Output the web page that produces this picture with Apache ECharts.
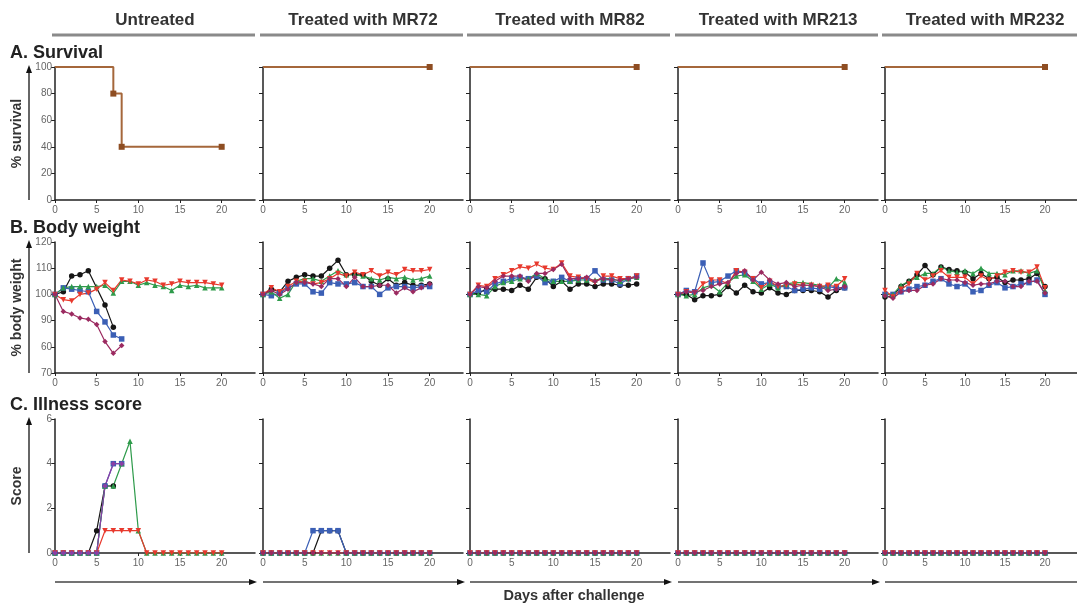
<!DOCTYPE html>
<html>
<head>
<meta charset="utf-8">
<script src="https://cdn.jsdelivr.net/npm/echarts@6/dist/echarts.min.js"></script>
<style>
  html, body { margin: 0; background: #fff; }
  #chart { width: 1077px; height: 605px; }
</style>
</head>
<body>
<div id="chart"></div>
<script>
const groups = ['Untreated', 'Treated with MR72', 'Treated with MR82', 'Treated with MR213', 'Treated with MR232']
const rowTitles = ['A. Survival', 'B. Body weight', 'C. Illness score']
const yNames = ['% survival', '% body weight', 'Score']
const days = [0, 1, 2, 3, 4, 5, 6, 7, 8, 9, 10, 11, 12, 13, 14, 15, 16, 17, 18, 19, 20]
const dayTicks = [0, 5, 10, 15, 20]
// labels as printed in the figure (the 80 tick reads "60")
const weightTickLabels = ['70', '60', '90', '100', '110', '120']

// survival
const survDaysUntreated = [0, 7, 8, 20]
const survUntreated = [100, 80, 40, 40]
const survDaysTreated = [0, 20]
const survTreated = [100, 100]

// body weight, one array per mouse (black, blue, green, red, maroon)
const wtUntreatedBlack = [100, 101, 107, 107.5, 109, null, 96, 87.5]
const wtUntreatedBlue = [100, 102.5, 102, 101.5, 101, 93.5, 89.5, 84.5, 83]
const wtUntreatedGreen = [100, 102.5, 103, 103, 103, 103, 103.5, 100.5, 105, 105, 103.5, 104.5, 103.5, 103, 101.5, 103.5, 103, 103.5, 102.5, 102.5, 102.5]
const wtUntreatedRed = [100, 98, 97.5, 100, 100.5, 102, 104.5, 101.5, 105.5, 105, 104, 105.5, 105, 103.5, 104, 105, 104.5, 104.5, 104.5, 104, 103.5]
const wtUntreatedMaroon = [100, 93.5, 92.5, 91, 90.5, 88.5, 82, 77.5, 80.5]

const wtMR72Black = [100, 102, 101, 105, 106.5, 107.5, 107, 107, 110, 113, 107.5, 107.5, 107.5, 105, 103.5, 106, 103.5, 104.5, 103.5, 103.5, 104]
const wtMR72Blue = [100, 99.5, 100.5, 102.5, 104, 104, 101, 100.5, 104.5, 104, 104, 104.5, 103, 103, 100, 102.5, 103, 103, 102.5, 103, 103]
const wtMR72Green = [100, 101, 98.5, 100, 105, 106, 106, 105, 107, 109, 107.5, 107.5, 107, 106, 105.5, 106.5, 106, 106.5, 105.5, 106, 107]
const wtMR72Red = [100, 102.5, 101, 103, 105, 105, 104, 104.5, 106, 108, 107, 108.5, 107.5, 109, 107, 108.5, 107.5, 109.5, 109, 109, 109.5]
const wtMR72Maroon = [100, 101.5, 100, 102, 104.5, 104.5, 104, 103, 106, 106, 103, 106.5, 103, 103, 103.5, 103.5, 100.5, 102.5, 101, 102.5, 104]

const wtMR82Black = [100, 100.5, 102, 102, 102, 101.5, 103.5, 102, 106.5, 106, 103, 105, 102, 104, 104, 103, 104, 104, 103.5, 103.5, 104]
const wtMR82Blue = [100, 101.5, 101, 104, 105, 106, 106.5, 106, 107, 104.5, 105, 106.5, 105, 106, 106, 109, 105.5, 105.5, 104, 106, 107]
const wtMR82Green = [100, 100, 99.5, 103, 104.5, 105, 106, 106, 108, 106, 105, 105, 105, 105.5, 105.5, 105.5, 106, 106, 105, 106, 106.5]
const wtMR82Red = [100, 103.5, 103, 106, 107.5, 109, 110.5, 110, 111.5, 110, 109.5, 112, 107, 106.5, 106, 104.5, 107, 107, 106, 106, 107]
const wtMR82Maroon = [100, 103, 102.5, 105, 107, 107, 107, 105, 108, 108, 109.5, 111.5, 106, 106, 106.5, 105, 106, 105.5, 105.5, 106, 106.5]

const wtMR213Black = [100, 100, 98, 99.5, 99.5, 100, 103, 100.5, 103.5, 101, 100.5, 102.5, 100.5, 100, 101.5, 101.5, 101.5, 101, 99, 101.5, 102.5]
const wtMR213Blue = [100, 101.5, 101, 112, 104.5, 105, 107, 109, 108, 106, 104, 104.5, 103, 103, 101.5, 102, 102.5, 102, 103, 102.5, 102.5]
const wtMR213Green = [100, 99.5, 100, 102.5, 103.5, 101, 104.5, 107, 107.5, 105, 102, 104, 102.5, 104, 104.5, 104.5, 104, 103.5, 102.5, 106, 104.5]
const wtMR213Red = [100, 101, 100.5, 104, 105.5, 105.5, 104, 109, 108.5, 106, 102.5, 105, 103, 103.5, 104, 103.5, 103.5, 103, 103.5, 103, 106]
const wtMR213Maroon = [100, 101, 101, 101.5, 103, 104, 104.5, 108, 109, 105.5, 108.5, 105.5, 104, 104.5, 103, 103.5, 103.5, 103, 101.5, 102, 103]

const wtMR232Black = [99, 99.5, 103, 105, 107.5, 111, 107.5, 110.5, 109.5, 109, 108.5, 106, 108, 106, 106.5, 104.5, 105.5, 105.5, 106, 108, 103]
const wtMR232Blue = [100, 100, 101, 102, 103, 103.5, 105, 106, 104, 103, 104, 101, 101.5, 103.5, 104.5, 102.5, 103, 104, 104.5, 105.5, 100]
const wtMR232Green = [100, 100, 103.5, 105, 106.5, 108, 108, 110.5, 109, 108.5, 109, 108, 110, 108, 108, 107.5, 109, 109, 108, 109, 101.5]
const wtMR232Red = [101.5, 99, 102, 104, 108, 105.5, 107, 109, 106.5, 106.5, 106.5, 104, 107, 105.5, 107, 108.5, 109, 108.5, 108.5, 110.5, 102.5]
const wtMR232Maroon = [99.5, 98.5, 101, 101.5, 101.5, 103.5, 104, 106, 105.5, 105.5, 104.5, 103.5, 104, 104, 105, 105, 103, 103, 105, 105, 100.5]

// illness score
const scUntreatedBlack = [0, 0, 0, 0, 0, 1, 3, 3]
const scUntreatedBlue = [0, 0, 0, 0, 0, 0, 3, 4, 4]
const scUntreatedGreen = [0, 0, 0, 0, 0, 0, 3, 3, 4, 5, 1, 0, 0, 0, 0, 0, 0, 0, 0, 0, 0]
const scUntreatedRed = [0, 0, 0, 0, 0, 0, 1, 1, 1, 1, 1, 0, 0, 0, 0, 0, 0, 0, 0, 0, 0]
const scUntreatedPurple = [0, 0, 0, 0, 0, 0, 3, 4, 4]
const scMR72Black = [0, 0, 0, 0, 0, 0, 0, 1, 1, 1, 0, 0, 0, 0, 0, 0, 0, 0, 0, 0, 0]
const scMR72Blue = [0, 0, 0, 0, 0, 0, 1, 1, 1, 1, 0, 0, 0, 0, 0, 0, 0, 0, 0, 0, 0]
const scAllZero = [0, 0, 0, 0, 0, 0, 0, 0, 0, 0, 0, 0, 0, 0, 0, 0, 0, 0, 0, 0, 0]

const weightData = [
  [wtUntreatedBlack, wtUntreatedBlue, wtUntreatedGreen, wtUntreatedRed, wtUntreatedMaroon],
  [wtMR72Black, wtMR72Blue, wtMR72Green, wtMR72Red, wtMR72Maroon],
  [wtMR82Black, wtMR82Blue, wtMR82Green, wtMR82Red, wtMR82Maroon],
  [wtMR213Black, wtMR213Blue, wtMR213Green, wtMR213Red, wtMR213Maroon],
  [wtMR232Black, wtMR232Blue, wtMR232Green, wtMR232Red, wtMR232Maroon]
]
const scoreData = [
  [scUntreatedBlack, scUntreatedBlue, scUntreatedGreen, scUntreatedRed, scUntreatedPurple],
  [scMR72Black, scMR72Blue, scAllZero, scAllZero, scAllZero],
  [scAllZero, scAllZero, scAllZero, scAllZero, scAllZero],
  [scAllZero, scAllZero, scAllZero, scAllZero, scAllZero],
  [scAllZero, scAllZero, scAllZero, scAllZero, scAllZero]
]

const FONT = '"Liberation Sans", Arial, sans-serif'
const mice = [
  { color: '#161616', symbol: 'circle', rotate: 0 },
  { color: '#3b5fb5', symbol: 'rect', rotate: 0 },
  { color: '#2e9b4b', symbol: 'triangle', rotate: 0 },
  { color: '#e8392d', symbol: 'triangle', rotate: 180 },
  { color: '#9b2a60', symbol: 'diamond', rotate: 0 }
]
const survColor = '#a5673b'
const colLeft = [55, 263, 470, 678, 885]
const plotW = 200
const rows = [
  { top: 67, height: 133 },
  { top: 242, height: 131 },
  { top: 419, height: 134 }
]

const grids = []
const xAxes = []
const yAxes = []
const series = []

rows.forEach((row, r) => {
  colLeft.forEach((left, c) => {
    const idx = grids.length
    grids.push({ left: left, top: row.top, width: plotW, height: row.height })
    xAxes.push({
      gridIndex: idx, type: 'value', min: 0, max: 24,
      axisLine: { onZero: false, lineStyle: { color: '#222', width: 1.5 } },
      axisTick: { customValues: dayTicks, length: 3, lineStyle: { color: '#222' } },
      axisLabel: { customValues: dayTicks, color: '#666', fontSize: 10, fontFamily: FONT, margin: 5 },
      splitLine: { show: false }
    })
    let y = { min: 0, max: 100, interval: 20 }
    if (r === 1) y = { min: 70, max: 120, interval: 10 }
    if (r === 2) y = { min: 0, max: 6, interval: 2 }
    yAxes.push(Object.assign(y, {
      gridIndex: idx, type: 'value',
      axisLine: { show: true, lineStyle: { color: '#222', width: 1.5 } },
      axisTick: { show: true, length: 4, lineStyle: { color: '#222' } },
      axisLabel: {
        show: c === 0, color: '#666', fontSize: 10, fontFamily: FONT, margin: 3,
        formatter: r === 1 ? v => weightTickLabels[(v - 70) / 10] : null
      },
      splitLine: { show: false }
    }))

    if (r === 0) {
      const xs = c === 0 ? survDaysUntreated : survDaysTreated
      const ys = c === 0 ? survUntreated : survTreated
      series.push({
        type: 'line', step: 'end', xAxisIndex: idx, yAxisIndex: idx,
        data: xs.map((d, i) => ({ value: [d, ys[i]], symbol: i === 0 ? 'none' : 'rect' })),
        symbolSize: 6,
        lineStyle: { color: survColor, width: 2 },
        itemStyle: { color: '#8e4d22' }
      })
    } else {
      const sets = r === 1 ? weightData[c] : scoreData[c]
      sets.forEach((vals, m) => {
        let color = mice[m].color
        if (r === 2 && c === 0 && m === 4) color = '#8a3fa6'
        series.push({
          type: 'line', xAxisIndex: idx, yAxisIndex: idx,
          data: vals.map((v, i) => [days[i], v]).filter(d => d[1] !== null),
          symbol: mice[m].symbol, symbolRotate: mice[m].rotate, symbolSize: 5.5,
          lineStyle: { color: color, width: 1.2 },
          itemStyle: { color: color }
        })
      })
    }
  })
})

function arrowUp(x, y1, y2) {
  return [
    { type: 'line', shape: { x1: x, y1: y1, x2: x, y2: y2 + 4 }, style: { stroke: '#333', lineWidth: 1.5 } },
    { type: 'polygon', shape: { points: [[x, y2 - 2], [x - 3, y2 + 6], [x + 3, y2 + 6]] }, style: { fill: '#111' } }
  ]
}
function arrowRight(x1, x2, y) {
  return [
    { type: 'line', shape: { x1: x1, y1: y, x2: x2 - 4, y2: y }, style: { stroke: '#444', lineWidth: 1.5 } },
    { type: 'polygon', shape: { points: [[x2 + 2, y], [x2 - 6, y - 3], [x2 - 6, y + 3]] }, style: { fill: '#111' } }
  ]
}

const graphics = []
groups.forEach((g, c) => {
  graphics.push({
    type: 'text', x: colLeft[c] + 100, y: 20,
    style: { text: g, fill: '#333', font: 'bold 17px ' + FONT, align: 'center', verticalAlign: 'middle' }
  })
  graphics.push({
    type: 'line', shape: { x1: colLeft[c] - 3, y1: 35, x2: colLeft[c] + 200, y2: 35 },
    style: { stroke: '#8a8a8a', lineWidth: 3 }
  })
  graphics.push(...arrowRight(colLeft[c], colLeft[c] + 200, 582))
})
rows.forEach((row, r) => {
  graphics.push({
    type: 'text', x: 10, y: row.top - 14,
    style: { text: rowTitles[r], fill: '#222', font: 'bold 18px ' + FONT, align: 'left', verticalAlign: 'middle' }
  })
  graphics.push({
    type: 'text', x: 17, y: row.top + row.height / 2, rotation: Math.PI / 2,
    style: { text: yNames[r], fill: '#333', font: 'bold 14px ' + FONT, align: 'center', verticalAlign: 'middle' }
  })
  graphics.push(...arrowUp(29, row.top + row.height, row.top))
})
graphics.push({
  type: 'text', x: 574, y: 596,
  style: { text: 'Days after challenge', fill: '#333', font: 'bold 14.5px ' + FONT, align: 'center', verticalAlign: 'middle' }
})

const chart = echarts.init(document.getElementById('chart'))
chart.setOption({
  animation: false,
  backgroundColor: '#fff',
  grid: grids,
  xAxis: xAxes,
  yAxis: yAxes,
  series: series,
  graphic: graphics
})
</script>
</body>
</html>
